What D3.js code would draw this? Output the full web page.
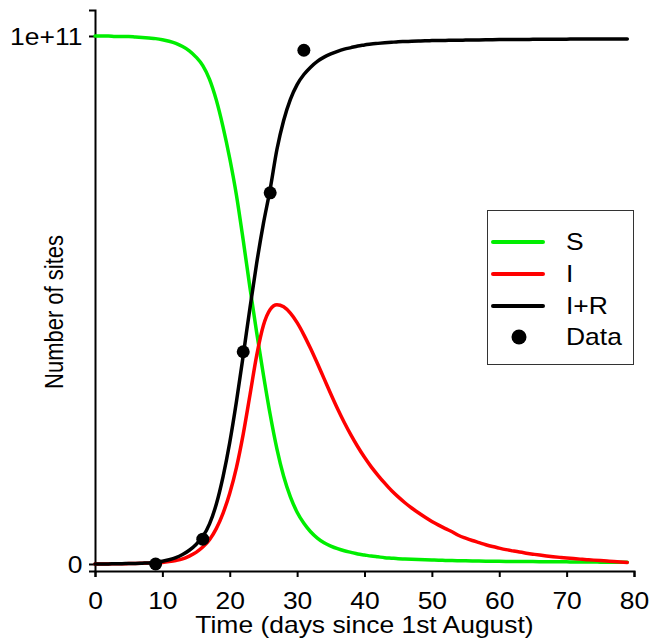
<!DOCTYPE html>
<html>
<head>
<meta charset="utf-8">
<script src="https://cdn.jsdelivr.net/npm/d3@7"></script>
<style>
  html, body { margin: 0; padding: 0; background: #fff; }
  svg { display: block; font-family: Arial, "Liberation Sans", sans-serif; }
</style>
</head>
<body>
<svg id="chart" width="651" height="640"></svg>
<script>
// Values in units of 1e9 sites; time in days since 1st August
const days = d3.range(0, 80);
const S = [100,100,100,99.9,99.9,99.9,99.8,99.7,99.6,99.5,
  99.3,99.0,98.6,98.0,97.2,96.0,94.4,91.8,87.9,82.8,
  76.8,69.8,61.3,52.3,43.8,35.8,28.3,21.8,16.6,12.7,
  9.8,7.7,6.1,4.9,4.0,3.4,2.9,2.5,2.2,1.9,
  1.7,1.5,1.35,1.2,1.1,1.0,0.95,0.9,0.85,0.8,
  0.75,0.7,0.68,0.65,0.62,0.6,0.58,0.56,0.54,0.52,
  0.5,0.49,0.48,0.47,0.46,0.45,0.44,0.43,0.42,0.41,
  0.4,0.39,0.38,0.37,0.36,0.35,0.34,0.33,0.32,0.31];
const I = [0,0,0,0.05,0.05,0.08,0.1,0.13,0.17,0.22,
  0.3,0.45,0.65,0.95,1.5,2.2,3.2,4.6,6.7,9.6,
  13.4,18.3,24.6,32.0,39.5,45.2,48.2,49.1,48.7,47.5,
  45.7,43.4,40.8,38.0,35.1,32.2,29.4,26.8,24.4,22.2,
  20.2,18.4,16.8,15.3,13.9,12.7,11.6,10.6,9.7,8.85,
  8.05,7.35,6.7,6.1,5.4,4.9,4.45,4.05,3.65,3.3,
  3.0,2.72,2.48,2.25,2.05,1.86,1.68,1.52,1.38,1.25,
  1.13,1.02,0.92,0.82,0.73,0.64,0.55,0.46,0.37,0.28];
const IR = [0,0,0,0.05,0.05,0.1,0.1,0.15,0.2,0.3,
  0.5,0.8,1.2,1.8,2.6,3.7,5.2,7.6,11.3,16.5,
  23.0,30.8,39.5,48.5,57.0,64.5,71.0,78.5,84.0,88.0,
  90.8,92.7,94.1,95.2,96.0,96.6,97.1,97.5,97.8,98.1,
  98.3,98.5,98.6,98.7,98.8,98.9,98.95,99.0,99.05,99.1,
  99.12,99.14,99.16,99.18,99.2,99.22,99.24,99.26,99.28,99.3,
  99.31,99.32,99.33,99.34,99.35,99.36,99.37,99.38,99.39,99.4,
  99.4,99.41,99.41,99.42,99.42,99.43,99.43,99.44,99.44,99.45];
const dataDays = [9, 16, 22, 26, 31];
const dataVals = [0, 4.7, 40.2, 70.3, 97.3];
const xTicks = [0,10,20,30,40,50,60,70,80];
const yTicks = [0, 100];
const yTickLabels = ["0", "1e+11"];
const seriesNames = ["S", "I", "I+R", "Data"];
const seriesColors = ["#00ee00", "#ff0000", "#000000", "#000000"];

const svg = d3.select("#chart");
const x = d3.scaleLinear().domain([0, 80]).range([95, 634]);
const y = d3.scaleLinear().domain([-1.33, 104.92]).range([571, 10]);

const fs = 23;
const sx = 1.15; // horizontal glyph stretch seen in the reference

// axes
const xAxis = svg.append("g").attr("transform", `translate(0,${y.range()[0]})`)
  .call(d3.axisBottom(x).tickValues(xTicks).tickSizeOuter(0).tickSize(6).tickPadding(16));
const yAxis = svg.append("g").attr("transform", `translate(${x.range()[0]},0)`)
  .call(d3.axisLeft(y).tickValues(yTicks).tickFormat((d,i)=>yTickLabels[i]).tickSize(6).tickSizeOuter(6).tickPadding(5));
[xAxis, yAxis].forEach(g => {
  g.selectAll("path, line").attr("stroke", "#000").attr("stroke-width", 2);
  g.selectAll("text").attr("fill", "#000").style("font-size", fs + "px")
    .attr("transform", `scale(${sx},1)`);
});
yAxis.selectAll(".tick text").attr("dy", "0.36em");

const line = d3.line().x((d,i)=>x(days[i])).y(d=>y(d)).curve(d3.curveMonotoneX);
const series = [S, I, IR];
series.forEach((s, k) => {
  svg.append("path").datum(s).attr("d", line)
    .attr("fill", "none").attr("stroke", seriesColors[k]).attr("stroke-width", 3.5)
    .attr("stroke-linejoin", "round").attr("stroke-linecap", "round");
});

svg.append("g").selectAll("circle").data(dataDays).join("circle")
  .attr("cx", d => x(d)).attr("cy", (d,i) => y(dataVals[i])).attr("r", 6.5).attr("fill", "#000");

// axis titles
svg.append("text")
  .attr("transform", `translate(${(x.range()[0] + x.range()[1]) / 2},633) scale(${sx},1)`)
  .attr("text-anchor", "middle").style("font-size", fs + "px").text("Time (days since 1st August)");
svg.append("text").attr("transform", `translate(63,312) rotate(-90) scale(1,${sx})`)
  .attr("text-anchor", "middle").style("font-size", "22px").text("Number of sites");

// legend
const lg = svg.append("g");
lg.append("rect").attr("x", 487.5).attr("y", 210.5).attr("width", 146).attr("height", 154)
  .attr("fill", "#fff").attr("stroke", "#333").attr("stroke-width", 1);
const rows = [242, 274, 306, 337];
seriesNames.forEach((n, i) => {
  if (i < 3) {
    lg.append("line").attr("x1", 493).attr("x2", 543).attr("y1", rows[i]).attr("y2", rows[i])
      .attr("stroke", seriesColors[i]).attr("stroke-width", 4).attr("stroke-linecap", "round");
  } else {
    lg.append("circle").attr("cx", 519).attr("cy", rows[i]).attr("r", 7.5).attr("fill", "#000");
  }
  lg.append("text").attr("transform", `translate(566,${rows[i]}) scale(${sx},1)`).attr("dy", "0.36em")
    .style("font-size", fs + "px").text(n);
});
</script>
</body>
</html>
